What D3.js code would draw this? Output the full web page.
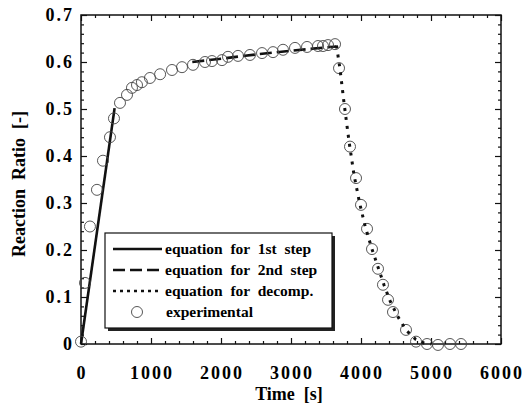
<!DOCTYPE html>
<html>
<head>
<meta charset="utf-8">
<script src="https://cdn.jsdelivr.net/npm/d3@7"></script>
<style>
  body { margin: 0; background: #fff; }
</style>
</head>
<body>
<div class="chart"></div>
<script>
// experimental points
const expTime  = [0, 57, 128, 228, 314, 414, 471, 557, 657, 728, 800, 870, 985, 1130, 1300,
                  1443, 1600, 1771, 1871, 2014, 2100, 2243, 2414, 2586, 2743, 2886, 3057, 3229, 3386, 3457, 3529, 3629,
                  3686, 3771, 3843, 3929, 4000, 4086, 4157, 4243, 4314, 4386, 4457, 4643, 4786, 4943, 5100, 5271, 5429];
const expRatio = [0.005, 0.13, 0.25, 0.328, 0.39, 0.44, 0.48, 0.513, 0.53, 0.545, 0.551, 0.557, 0.566, 0.574, 0.583,
                  0.589, 0.594, 0.600, 0.602, 0.604, 0.611, 0.613, 0.615, 0.619, 0.621, 0.626, 0.630, 0.632, 0.634, 0.634, 0.636, 0.638,
                  0.587, 0.50, 0.42, 0.353, 0.296, 0.245, 0.202, 0.16, 0.126, 0.094, 0.068, 0.03, 0.005, 0.0, -0.002, 0.0, 0.0];

// equation curves
const step1Time  = [0, 480];
const step1Ratio = [0, 0.502];
const step2Time  = [1590, 2000, 2500, 3000, 3500, 3650];
const step2Ratio = [0.600, 0.607, 0.616, 0.624, 0.631, 0.633];
const decompTime  = [3650, 3700, 3760, 3830, 3900, 3980, 4060, 4150, 4240, 4330, 4420, 4520, 4640, 4780, 4900, 5000];
const decompRatio = [0.635, 0.585, 0.51, 0.43, 0.36, 0.30, 0.25, 0.205, 0.165, 0.125, 0.09, 0.06, 0.03, 0.01, 0.002, 0];

const xTicks = [0, 1000, 2000, 3000, 4000, 5000, 6000];
const yTicks = [0, 0.1, 0.2, 0.3, 0.4, 0.5, 0.6, 0.7];
const legendLabels = ["equation  for  1st  step", "equation  for  2nd  step", "equation  for  decomp.", "experimental"];

const W = 529, H = 403;
const mLeft = 81, mRight = 501, mTop = 15, mBottom = 344;
const FONT = "Liberation Serif, DejaVu Serif, serif";

const svg = d3.select(".chart").append("svg")
    .attr("width", W).attr("height", H)
    .style("font-family", FONT).style("font-weight", "bold");

const x = d3.scaleLinear().domain([0, 6000]).range([mLeft, mRight]);
const y = d3.scaleLinear().domain([0, 0.7]).range([mBottom, mTop]);

// minor + major ticks, inward, all four sides
const xMinor = d3.range(0, 6001, 200);
const yMinor = d3.range(0, 0.7001, 0.02);
const isMajorX = d => Math.abs(d / 1000 - Math.round(d / 1000)) < 1e-6;
const isMajorY = d => Math.abs(d * 10 - Math.round(d * 10)) < 1e-6;

function tickGroup(axis, tr) {
  const g = svg.append("g").attr("transform", tr).call(axis);
  g.select(".domain").remove();
  g.selectAll("line").attr("stroke", "#111").attr("stroke-width", 1.2);
  g.selectAll("text").remove();
  return g;
}
tickGroup(d3.axisBottom(x).tickValues(xMinor.filter(d => !isMajorX(d))).tickSize(-3), `translate(0,${mBottom})`);
tickGroup(d3.axisBottom(x).tickValues(xTicks).tickSize(-6), `translate(0,${mBottom})`);
tickGroup(d3.axisTop(x).tickValues(xMinor.filter(d => !isMajorX(d))).tickSize(-3), `translate(0,${mTop})`);
tickGroup(d3.axisTop(x).tickValues(xTicks).tickSize(-6), `translate(0,${mTop})`);
tickGroup(d3.axisLeft(y).tickValues(yMinor.filter(d => !isMajorY(d))).tickSize(-3), `translate(${mLeft},0)`);
tickGroup(d3.axisLeft(y).tickValues(yTicks).tickSize(-6), `translate(${mLeft},0)`);
tickGroup(d3.axisRight(y).tickValues(yMinor.filter(d => !isMajorY(d))).tickSize(-3), `translate(${mRight},0)`);
tickGroup(d3.axisRight(y).tickValues(yTicks).tickSize(-6), `translate(${mRight},0)`);

// frame
svg.append("rect")
    .attr("x", mLeft).attr("y", mTop)
    .attr("width", mRight - mLeft).attr("height", mBottom - mTop)
    .attr("fill", "none").attr("stroke", "#111").attr("stroke-width", 1.5);

// tick labels
svg.append("g").selectAll("text").data(xTicks).join("text")
    .attr("x", d => x(d) + 1).attr("y", mBottom + 35)
    .attr("text-anchor", "middle")
    .attr("font-size", 18).attr("letter-spacing", 2)
    .text(d => d);
svg.append("g").selectAll("text").data(yTicks).join("text")
    .attr("x", mLeft - 7).attr("y", d => y(d) + 6)
    .attr("text-anchor", "end")
    .attr("font-size", 18).attr("letter-spacing", 2)
    .text(d => d === 0 ? "0" : d.toFixed(1));

// axis titles
svg.append("text")
    .attr("x", 289).attr("y", 400)
    .attr("text-anchor", "middle").attr("font-size", 18)
    .attr("xml:space", "preserve")
    .text("Time  [s]");
svg.append("text")
    .attr("transform", "translate(25,184) rotate(-90)")
    .attr("text-anchor", "middle").attr("font-size", 18)
    .attr("xml:space", "preserve")
    .text("Reaction  Ratio  [-]");

// curves
const line = d3.line().x(d => x(d[0])).y(d => y(d[1]));
const zip = (a, b) => a.map((v, i) => [v, b[i]]);

svg.append("path").datum(zip(step1Time, step1Ratio))
    .attr("d", line).attr("fill", "none").attr("stroke", "#111").attr("stroke-width", 2.6);
svg.append("path").datum(zip(step2Time, step2Ratio))
    .attr("d", line).attr("fill", "none").attr("stroke", "#111").attr("stroke-width", 2.6)
    .attr("stroke-dasharray", "12,5");

// experimental circles
svg.append("g").selectAll("circle").data(zip(expTime, expRatio)).join("circle")
    .attr("cx", d => x(d[0])).attr("cy", d => y(d[1]))
    .attr("r", 5.5)
    .attr("fill", "none").attr("stroke", "#444").attr("stroke-width", 0.9);

svg.append("path").datum(zip(decompTime, decompRatio))
    .attr("d", line).attr("fill", "none").attr("stroke", "#111").attr("stroke-width", 3)
    .attr("stroke-dasharray", "3,6");

// legend
const lg = svg.append("g");
const lx = 105, ly = 233, lw = 227, lh = 95;
lg.append("rect").attr("x", lx + 3).attr("y", ly + 3).attr("width", lw).attr("height", lh).attr("fill", "#222");
lg.append("rect").attr("x", lx).attr("y", ly).attr("width", lw).attr("height", lh)
    .attr("fill", "#fff").attr("stroke", "#111").attr("stroke-width", 1.2);

const rowY = [249, 270, 291, 312];
const styles = [null, "12,5", "3,4"];
styles.forEach((s, i) => {
  const l = lg.append("line")
      .attr("x1", 113).attr("x2", 162)
      .attr("y1", rowY[i]).attr("y2", rowY[i])
      .attr("stroke", "#111").attr("stroke-width", 2.6);
  if (s) l.attr("stroke-dasharray", s);
});
lg.append("circle").attr("cx", 137).attr("cy", rowY[3]).attr("r", 5.5)
    .attr("fill", "none").attr("stroke", "#444").attr("stroke-width", 0.9);

lg.selectAll("text.lbl").data(legendLabels).join("text")
    .attr("class", "lbl")
    .attr("x", (d, i) => i === 3 ? 166 : 165).attr("y", (d, i) => rowY[i] + 5)
    .attr("font-size", 15.5)
    .attr("xml:space", "preserve")
    .text(d => d);
</script>
</body>
</html>
